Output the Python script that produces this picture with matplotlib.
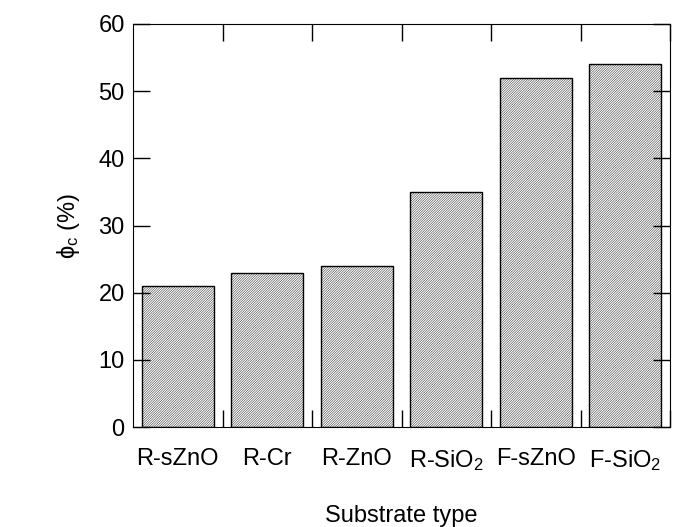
import matplotlib
matplotlib.use("Agg")
import matplotlib.pyplot as plt
import numpy as np

categories = ["R-sZnO", "R-Cr", "R-ZnO", "R-SiO$_2$", "F-sZnO", "F-SiO$_2$"]
values = [21, 23, 24, 35, 52, 54]
yticks = [0, 10, 20, 30, 40, 50, 60]

plt.rcParams['font.family'] = ['Liberation Sans', 'DejaVu Sans']
plt.rcParams['mathtext.fontset'] = 'custom'
plt.rcParams['mathtext.rm'] = 'Liberation Sans'
plt.rcParams['mathtext.it'] = 'Liberation Sans'
plt.rcParams['hatch.color'] = '#bcbcbc'
plt.rcParams['hatch.linewidth'] = 0.3

FS = 17

fig = plt.figure(figsize=(6.73, 5.27), dpi=100)
ax = fig.add_axes([133/673, 1-427/527, (670-133)/673, (427-24)/527])

x = np.arange(len(categories))
ax.bar(x, values, width=0.8, color='white', edgecolor='black', linewidth=1.0, hatch='/' * 14)

ax.set_xlim(-0.5, len(categories) - 0.5)
ax.set_ylim(0, 60)
ax.set_yticks(yticks)
ax.set_yticklabels([str(v) for v in yticks], fontsize=FS)
ax.set_xticks(x + 0.5, minor=False)
ax.set_xticklabels([])
ax.set_xticks(x, minor=True)
ax.set_xticklabels(categories, minor=True, fontsize=FS)
ax.tick_params(axis='x', which='minor', length=0, pad=15)
ax.tick_params(axis='x', which='major', direction='in', length=12, top=True, width=1)
ax.tick_params(axis='y', direction='in', length=12, right=True, width=1, pad=6)

ax.set_ylabel(r"$\phi_c$ (%)", fontsize=FS, labelpad=12)
ax.set_xlabel("Substrate type", fontsize=FS, labelpad=23)

fig.savefig("out.png", dpi=100)
